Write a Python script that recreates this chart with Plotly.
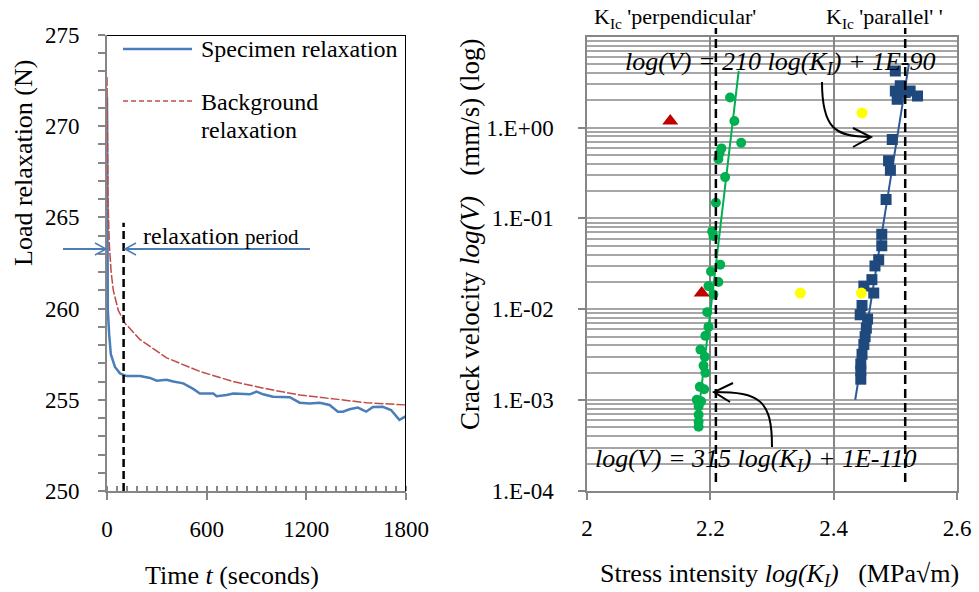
import plotly.graph_objects as go

W, H = 979, 592
FONT = "Liberation Serif, Times New Roman, serif"

# ---------------- Left panel data ----------------
spec_t = [0, 1, 2, 3, 5, 13, 23, 48, 78, 118, 199, 259, 299, 359, 399, 459, 519, 559,
          640, 660, 720, 760, 860, 900, 940, 1000, 1100, 1160, 1220, 1280, 1340, 1390,
          1420, 1460, 1510, 1560, 1600, 1660, 1710, 1760, 1800]
spec_load = [271.6, 267.0, 262.5, 261.0, 259.9, 258.6, 257.5, 256.8, 256.45, 256.3, 256.3,
             256.2, 256.05, 256.1, 256.0, 255.9, 255.6, 255.35, 255.35, 255.2, 255.26,
             255.35, 255.3, 255.45, 255.3, 255.17, 255.14, 254.84, 254.8, 254.84, 254.72,
             254.35, 254.35, 254.48, 254.57, 254.35, 254.6, 254.62, 254.44, 253.9, 254.1]
bg_t = [0, 2, 6, 14, 25, 38, 68, 108, 199, 359, 560, 760, 961, 1161, 1362, 1562, 1800]
bg_load = [272.7, 269.5, 266.0, 263.5, 262.0, 261.0, 259.9, 259.2, 258.3, 257.3, 256.55,
           256.0, 255.6, 255.26, 255.03, 254.84, 254.72]
relax_period_t = 100
relax_period_top = 264.7

# ---------------- Right panel data ----------------
perp_K = [2.232, 2.239, 2.250, 2.218, 2.215, 2.213, 2.224, 2.209, 2.203, 2.205, 2.216,
          2.201, 2.213, 2.197, 2.205, 2.195, 2.197, 2.192, 2.184, 2.191, 2.189, 2.192,
          2.183, 2.190, 2.178, 2.185, 2.181, 2.181, 2.181, 2.181]
perp_V = [2.14, 1.18, 0.68, 0.59, 0.52, 0.45, 0.285, 0.149, 0.072, 0.064, 0.031, 0.026,
          0.020, 0.018, 0.0145, 0.0093, 0.0064, 0.0051, 0.0036, 0.0030, 0.0024, 0.0020,
          0.0014, 0.00132, 0.00101, 0.00097, 0.00085, 0.00069, 0.00058, 0.00051]
par_K = [2.500, 2.508, 2.500, 2.503, 2.524, 2.536, 2.516, 2.495, 2.489, 2.492, 2.485,
         2.478, 2.478, 2.473, 2.467, 2.462, 2.465, 2.449, 2.446, 2.443, 2.455, 2.453,
         2.451, 2.449, 2.446, 2.444, 2.444, 2.444]
par_V = [4.2, 2.88, 2.53, 2.05, 2.53, 2.23, 2.43, 0.74, 0.43, 0.34, 0.162, 0.067, 0.050,
         0.035, 0.030, 0.0212, 0.0151, 0.018, 0.011, 0.0087, 0.0078, 0.0062, 0.0050,
         0.0041, 0.0032, 0.0025, 0.0021, 0.0017]
tri_K = [2.135, 2.186]
tri_V = [1.18, 0.0151]
yel_K = [2.446, 2.346, 2.445]
yel_V = [1.45, 0.0151, 0.0151]
perp_fit_K = [2.178, 2.246]
perp_fit_V = [0.0005, 4.2]
par_fit_K = [2.435, 2.522]
par_fit_V = [0.00101, 4.99]
kic_perp = 2.209
kic_par = 2.516

ytick_vals = [1e-4, 1e-3, 1e-2, 1e-1, 1e0]
ytick_text = ["1.E-04", "1.E-03", "1.E-02", "1.E-01", "1.E+00"]
minor_vals = [k * 10.0 ** d for d in range(-4, 1) for k in range(2, 10)]


def px(x, y):
    return x / W, 1 - y / H


def ppath(pts):
    s = ""
    for i, (x, y) in enumerate(pts):
        X, Y = px(x, y)
        s += ("M" if i == 0 else "L") + f"{X:.5f},{Y:.5f} "
    return s


def bez(p0, c1, c2, p3):
    a = px(*p0); b = px(*c1); c = px(*c2); d = px(*p3)
    return f"M{a[0]:.5f},{a[1]:.5f} C{b[0]:.5f},{b[1]:.5f} {c[0]:.5f},{c[1]:.5f} {d[0]:.5f},{d[1]:.5f}"


GRAY = "#868686"
BLUE = "#4A7EBB"
RED = "#BE4B48"

fig = go.Figure()
fig.add_trace(go.Scatter(x=spec_t, y=spec_load, mode="lines", xaxis="x", yaxis="y",
                         line=dict(color=BLUE, width=2.5), showlegend=False))
fig.add_trace(go.Scatter(x=bg_t, y=bg_load, mode="lines", xaxis="x", yaxis="y",
                         line=dict(color=RED, width=1.5, dash="9px,2px"), showlegend=False))

fig.add_trace(go.Scatter(x=perp_fit_K, y=perp_fit_V, mode="lines", xaxis="x2", yaxis="y2",
                         line=dict(color="#00B050", width=2), showlegend=False))
fig.add_trace(go.Scatter(x=par_fit_K, y=par_fit_V, mode="lines", xaxis="x2", yaxis="y2",
                         line=dict(color="#2E5A98", width=2), showlegend=False))
fig.add_trace(go.Scatter(x=perp_K, y=perp_V, mode="markers", xaxis="x2", yaxis="y2",
                         marker=dict(color="#00B050", size=10, symbol="circle"), showlegend=False))
fig.add_trace(go.Scatter(x=par_K, y=par_V, mode="markers", xaxis="x2", yaxis="y2",
                         marker=dict(color="#1F497D", size=11, symbol="square"), showlegend=False))
fig.add_trace(go.Scatter(x=tri_K, y=tri_V, mode="markers", xaxis="x2", yaxis="y2",
                         marker=dict(color="#C00000", size=14, symbol="triangle-up"), showlegend=False))
fig.add_trace(go.Scatter(x=yel_K, y=yel_V, mode="markers", xaxis="x2", yaxis="y2",
                         marker=dict(color="#FFFF00", size=11, symbol="circle"), showlegend=False))

tickfont = dict(family=FONT, size=23, color="black")

fig.update_layout(
    width=W, height=H,
    margin=dict(l=0, r=0, t=0, b=0, pad=0),
    paper_bgcolor="white", plot_bgcolor="white",
    font=dict(family=FONT, color="black"),
    showlegend=False,
    xaxis=dict(domain=[107 / W, 406 / W], range=[0, 1800], tickvals=[0, 600, 1200, 1800],
               ticks="outside", ticklen=7, tickwidth=1.5, tickcolor=GRAY,
               showline=True, linecolor=GRAY, linewidth=2, showgrid=False, zeroline=False,
               minor=dict(dtick=60, tick0=0, ticks="inside", ticklen=5, tickwidth=1.5,
                          tickcolor=GRAY, showgrid=False),
               tickfont=tickfont, ticklabelstandoff=9, anchor="y", automargin=False),
    yaxis=dict(domain=[1 - 491 / H, 1 - 35 / H], range=[250, 275], dtick=5, tick0=250,
               ticks="outside", ticklen=7, tickwidth=1.5, tickcolor=GRAY,
               showline=True, linecolor=GRAY, linewidth=2, showgrid=False, zeroline=False,
               minor=dict(dtick=1, ticks="outside", ticklen=7, tickwidth=1.5, tickcolor=GRAY,
                          showgrid=False),
               tickfont=tickfont, ticklabelstandoff=14, anchor="x", automargin=False),
    xaxis2=dict(domain=[587 / W, 957 / W], range=[2, 2.6], tickvals=[2, 2.2, 2.4, 2.6],
                ticktext=["2", "2.2", "2.4", "2.6"],
                ticks="outside", ticklen=7, tickwidth=1.5, tickcolor=GRAY,
                showline=True, linecolor=GRAY, linewidth=1.5, mirror=True,
                showgrid=True, gridcolor=GRAY, gridwidth=1.5, zeroline=False,
                tickfont=tickfont, ticklabelstandoff=9, anchor="y2", automargin=False),
    yaxis2=dict(type="log", domain=[1 - 491 / H, 1 - 36.7 / H], range=[-4, 1],
                tickvals=ytick_vals, ticktext=ytick_text,
                ticks="outside", ticklen=7, tickwidth=1.5, tickcolor=GRAY,
                showline=True, linecolor=GRAY, linewidth=1.5, mirror=True,
                showgrid=True, gridcolor="#A6A6A6", gridwidth=1.5, zeroline=False,
                minor=dict(tickmode="array", tickvals=minor_vals, showgrid=True,
                           gridcolor="#A6A6A6", gridwidth=1.5, ticks=""),
                tickfont=tickfont, ticklabelstandoff=20, anchor="x2", automargin=False),
)

shapes = []
shapes.append(dict(type="line", xref="x", yref="y", x0=0, x1=1800, y0=275, y1=275,
                   line=dict(color="black", width=2)))
shapes.append(dict(type="line", xref="x", yref="y", x0=1800, x1=1800, y0=250, y1=275,
                   line=dict(color="black", width=2)))
shapes.append(dict(type="line", xref="x", yref="y", x0=relax_period_t, x1=relax_period_t,
                   y0=250, y1=relax_period_top, line=dict(color="black", width=2.5, dash="8px,4px")))
shapes.append(dict(type="path", xref="paper", yref="paper",
                   path=ppath([(63, 249), (106, 249)]), line=dict(color=BLUE, width=2)))
shapes.append(dict(type="path", xref="paper", yref="paper",
                   path=ppath([(95, 243), (106, 249), (95, 255)]), line=dict(color=BLUE, width=1.5)))
shapes.append(dict(type="path", xref="paper", yref="paper",
                   path=ppath([(310, 249), (125, 249)]), line=dict(color=BLUE, width=2)))
shapes.append(dict(type="path", xref="paper", yref="paper",
                   path=ppath([(136, 243), (125, 249), (136, 255)]), line=dict(color=BLUE, width=1.5)))
shapes.append(dict(type="path", xref="paper", yref="paper",
                   path=ppath([(123, 49), (192, 49)]), line=dict(color=BLUE, width=2.5)))
shapes.append(dict(type="path", xref="paper", yref="paper",
                   path=ppath([(123, 101), (192, 101)]), line=dict(color=RED, width=1.5, dash="5px,3px")))
for k in (kic_perp, kic_par):
    shapes.append(dict(type="line", xref="x2", yref="paper", x0=k, x1=k,
                       y0=1 - 482 / H, y1=1 - 28 / H,
                       line=dict(color="black", width=2.5, dash="9px,5px")))
shapes.append(dict(type="path", xref="paper", yref="paper",
                   path=bez((822, 82), (822, 128), (835, 137), (870, 137)),
                   line=dict(color="black", width=2)))
shapes.append(dict(type="path", xref="paper", yref="paper",
                   path=ppath([(853, 128), (871, 137), (853, 147)]), line=dict(color="black", width=2)))
shapes.append(dict(type="path", xref="paper", yref="paper",
                   path=bez((772, 447), (772, 400), (760, 392), (714, 392)),
                   line=dict(color="black", width=2)))
shapes.append(dict(type="path", xref="paper", yref="paper",
                   path=ppath([(733, 383), (714, 392), (730, 402)]), line=dict(color="black", width=2)))
fig.update_layout(shapes=shapes)


def ann(x, y, text, size, xanchor="center", angle=0, yanchor="middle"):
    X, Y = px(x, y)
    return dict(x=X, y=Y, xref="paper", yref="paper", text=text, showarrow=False,
                xanchor=xanchor, yanchor=yanchor, textangle=angle,
                font=dict(family=FONT, size=size, color="black"))


anns = [
    ann(23, 163, "Load relaxation (N)", 26, angle=-90),
    ann(232, 575, "Time <i>t</i> (seconds)", 26),
    ann(199, 49, "Specimen relaxation", 24, xanchor="left"),
    ann(199, 102, "Background", 24, xanchor="left"),
    ann(199, 130, "relaxation", 24, xanchor="left"),
    ann(141, 236, "relaxation <span style='font-size:21px'>period</span>", 24, xanchor="left"),
    ann(470, 235, "Crack velocity <i>log(V)</i>&nbsp;&nbsp;&nbsp;(mm/s) (log)", 27, angle=-90),
    ann(779, 575, "Stress intensity <i>log(K<sub>I</sub>)</i>&nbsp;&nbsp;&nbsp;(MPa√m)", 26),
    ann(675, 18, "K<sub>Ic</sub> 'perpendicular'", 22),
    ann(884, 18, "K<sub>Ic</sub> 'parallel' '", 22),
    ann(780, 63, "<i>log(V) = 210 log(K<sub>I</sub>) + 1E-90</i>", 26),
    ann(756, 460, "<i>log(V) = 315 log(K<sub>I</sub>) + 1E-110</i>", 26),
]
fig.update_layout(annotations=anns)

fig.write_html("out.html", config={"displayModeBar": False},
               post_script="document.body.style.margin='0px';document.body.style.padding='0px';")
